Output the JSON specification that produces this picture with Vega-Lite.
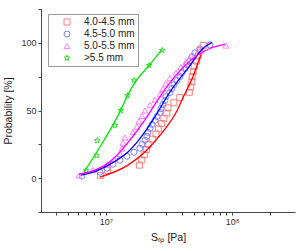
{
  "$schema": "https://vega.github.io/schema/vega-lite/v6.json",
  "width": 254,
  "height": 203,
  "autosize": {"type": "none"},
  "padding": {"left": 41, "top": 9, "right": 3, "bottom": 39},
  "config": {
    "view": {"stroke": null},
    "font": "Liberation Sans",
    "axis": {
      "grid": false,
      "domainColor": "#444444",
      "tickColor": "#444444",
      "labelColor": "#333333",
      "titleColor": "#222222",
      "labelFont": "Liberation Sans",
      "titleFont": "Liberation Sans",
      "labelFontSize": 9,
      "titleFontSize": 10.5,
      "titleFontWeight": "normal",
      "tickSize": 3,
      "labelPadding": 2
    },
    "legend": {
      "orient": "none",
      "legendX": 7,
      "legendY": 5,
      "strokeColor": "#999999",
      "fillColor": "white",
      "padding": 3,
      "symbolOffset": 11,
      "labelOffset": 12,
      "labelFont": "Liberation Sans",
      "labelFontSize": 10,
      "labelColor": "#222222",
      "symbolSize": 36,
      "symbolStrokeWidth": 1,
      "rowPadding": 2
    }
  },
  "data": {
    "values": [
      {"s": "4.0-4.5 mm", "k": "d", "x": 9.08e6, "y": 1.92},
      {"s": "4.0-4.5 mm", "k": "d", "x": 1.03e7, "y": 5.77},
      {"s": "4.0-4.5 mm", "k": "d", "x": 1.84e7, "y": 9.62},
      {"s": "4.0-4.5 mm", "k": "d", "x": 1.92e7, "y": 13.46},
      {"s": "4.0-4.5 mm", "k": "d", "x": 2.01e7, "y": 17.31},
      {"s": "4.0-4.5 mm", "k": "d", "x": 2.10e7, "y": 21.15},
      {"s": "4.0-4.5 mm", "k": "d", "x": 2.16e7, "y": 25.0},
      {"s": "4.0-4.5 mm", "k": "d", "x": 2.33e7, "y": 28.85},
      {"s": "4.0-4.5 mm", "k": "d", "x": 2.49e7, "y": 32.69},
      {"s": "4.0-4.5 mm", "k": "d", "x": 2.60e7, "y": 36.54},
      {"s": "4.0-4.5 mm", "k": "d", "x": 2.76e7, "y": 40.38},
      {"s": "4.0-4.5 mm", "k": "d", "x": 2.88e7, "y": 44.23},
      {"s": "4.0-4.5 mm", "k": "d", "x": 3.03e7, "y": 48.08},
      {"s": "4.0-4.5 mm", "k": "d", "x": 3.10e7, "y": 51.92},
      {"s": "4.0-4.5 mm", "k": "d", "x": 3.45e7, "y": 55.77},
      {"s": "4.0-4.5 mm", "k": "d", "x": 3.85e7, "y": 59.62},
      {"s": "4.0-4.5 mm", "k": "d", "x": 4.57e7, "y": 63.46},
      {"s": "4.0-4.5 mm", "k": "d", "x": 4.69e7, "y": 67.31},
      {"s": "4.0-4.5 mm", "k": "d", "x": 4.78e7, "y": 71.15},
      {"s": "4.0-4.5 mm", "k": "d", "x": 4.82e7, "y": 75.0},
      {"s": "4.0-4.5 mm", "k": "d", "x": 4.91e7, "y": 78.85},
      {"s": "4.0-4.5 mm", "k": "d", "x": 5.00e7, "y": 82.69},
      {"s": "4.0-4.5 mm", "k": "d", "x": 5.23e7, "y": 86.54},
      {"s": "4.0-4.5 mm", "k": "d", "x": 5.38e7, "y": 90.38},
      {"s": "4.0-4.5 mm", "k": "d", "x": 5.55e7, "y": 94.23},
      {"s": "4.0-4.5 mm", "k": "d", "x": 5.89e7, "y": 98.08},

      {"s": "4.5-5.0 mm", "k": "d", "x": 6.46e6, "y": 1.47},
      {"s": "4.5-5.0 mm", "k": "d", "x": 8.96e6, "y": 4.41},
      {"s": "4.5-5.0 mm", "k": "d", "x": 1.02e7, "y": 7.35},
      {"s": "4.5-5.0 mm", "k": "d", "x": 1.136e7, "y": 10.29},
      {"s": "4.5-5.0 mm", "k": "d", "x": 1.29e7, "y": 13.24},
      {"s": "4.5-5.0 mm", "k": "d", "x": 1.467e7, "y": 16.18},
      {"s": "4.5-5.0 mm", "k": "d", "x": 1.666e7, "y": 19.12},
      {"s": "4.5-5.0 mm", "k": "d", "x": 1.858e7, "y": 22.06},
      {"s": "4.5-5.0 mm", "k": "d", "x": 1.928e7, "y": 25.0},
      {"s": "4.5-5.0 mm", "k": "d", "x": 2.036e7, "y": 27.94},
      {"s": "4.5-5.0 mm", "k": "d", "x": 2.112e7, "y": 30.88},
      {"s": "4.5-5.0 mm", "k": "d", "x": 2.15e7, "y": 33.82},
      {"s": "4.5-5.0 mm", "k": "d", "x": 2.231e7, "y": 36.76},
      {"s": "4.5-5.0 mm", "k": "d", "x": 2.313e7, "y": 39.71},
      {"s": "4.5-5.0 mm", "k": "d", "x": 2.443e7, "y": 42.65},
      {"s": "4.5-5.0 mm", "k": "d", "x": 2.534e7, "y": 45.59},
      {"s": "4.5-5.0 mm", "k": "d", "x": 2.676e7, "y": 48.53},
      {"s": "4.5-5.0 mm", "k": "d", "x": 2.726e7, "y": 51.47},
      {"s": "4.5-5.0 mm", "k": "d", "x": 2.827e7, "y": 54.41},
      {"s": "4.5-5.0 mm", "k": "d", "x": 2.932e7, "y": 57.35},
      {"s": "4.5-5.0 mm", "k": "d", "x": 2.986e7, "y": 60.29},
      {"s": "4.5-5.0 mm", "k": "d", "x": 3.212e7, "y": 63.24},
      {"s": "4.5-5.0 mm", "k": "d", "x": 3.331e7, "y": 66.18},
      {"s": "4.5-5.0 mm", "k": "d", "x": 3.455e7, "y": 69.12},
      {"s": "4.5-5.0 mm", "k": "d", "x": 3.649e7, "y": 72.06},
      {"s": "4.5-5.0 mm", "k": "d", "x": 3.854e7, "y": 75.0},
      {"s": "4.5-5.0 mm", "k": "d", "x": 3.997e7, "y": 77.94},
      {"s": "4.5-5.0 mm", "k": "d", "x": 4.222e7, "y": 80.88},
      {"s": "4.5-5.0 mm", "k": "d", "x": 4.378e7, "y": 83.82},
      {"s": "4.5-5.0 mm", "k": "d", "x": 4.625e7, "y": 86.76},
      {"s": "4.5-5.0 mm", "k": "d", "x": 4.796e7, "y": 89.71},
      {"s": "4.5-5.0 mm", "k": "d", "x": 5.066e7, "y": 92.65},
      {"s": "4.5-5.0 mm", "k": "d", "x": 5.55e7, "y": 95.59},
      {"s": "4.5-5.0 mm", "k": "d", "x": 6.66e7, "y": 98.53},

      {"s": "5.0-5.5 mm", "k": "d", "x": 6.11e6, "y": 2},
      {"s": "5.0-5.5 mm", "k": "d", "x": 7.89e6, "y": 6},
      {"s": "5.0-5.5 mm", "k": "d", "x": 1.037e7, "y": 10},
      {"s": "5.0-5.5 mm", "k": "d", "x": 1.157e7, "y": 14},
      {"s": "5.0-5.5 mm", "k": "d", "x": 1.29e7, "y": 18},
      {"s": "5.0-5.5 mm", "k": "d", "x": 1.339e7, "y": 22},
      {"s": "5.0-5.5 mm", "k": "d", "x": 1.363e7, "y": 26},
      {"s": "5.0-5.5 mm", "k": "d", "x": 1.414e7, "y": 30},
      {"s": "5.0-5.5 mm", "k": "d", "x": 1.636e7, "y": 34},
      {"s": "5.0-5.5 mm", "k": "d", "x": 1.759e7, "y": 38},
      {"s": "5.0-5.5 mm", "k": "d", "x": 1.825e7, "y": 42},
      {"s": "5.0-5.5 mm", "k": "d", "x": 1.928e7, "y": 46},
      {"s": "5.0-5.5 mm", "k": "d", "x": 2.036e7, "y": 50},
      {"s": "5.0-5.5 mm", "k": "d", "x": 2.231e7, "y": 54},
      {"s": "5.0-5.5 mm", "k": "d", "x": 2.443e7, "y": 58},
      {"s": "5.0-5.5 mm", "k": "d", "x": 2.676e7, "y": 62},
      {"s": "5.0-5.5 mm", "k": "d", "x": 2.827e7, "y": 66},
      {"s": "5.0-5.5 mm", "k": "d", "x": 2.986e7, "y": 70},
      {"s": "5.0-5.5 mm", "k": "d", "x": 3.212e7, "y": 74},
      {"s": "5.0-5.5 mm", "k": "d", "x": 3.583e7, "y": 78},
      {"s": "5.0-5.5 mm", "k": "d", "x": 3.925e7, "y": 82},
      {"s": "5.0-5.5 mm", "k": "d", "x": 4.299e7, "y": 86},
      {"s": "5.0-5.5 mm", "k": "d", "x": 4.71e7, "y": 90},
      {"s": "5.0-5.5 mm", "k": "d", "x": 5.55e7, "y": 94},
      {"s": "5.0-5.5 mm", "k": "d", "x": 8.915e7, "y": 98},

      {"s": ">5.5 mm", "k": "d", "x": 6.95e6, "y": 5.56},
      {"s": ">5.5 mm", "k": "d", "x": 8.44e6, "y": 16.67},
      {"s": ">5.5 mm", "k": "d", "x": 8.53e6, "y": 27.78},
      {"s": ">5.5 mm", "k": "d", "x": 1.18e7, "y": 38.89},
      {"s": ">5.5 mm", "k": "d", "x": 1.31e7, "y": 50.0},
      {"s": ">5.5 mm", "k": "d", "x": 1.48e7, "y": 61.11},
      {"s": ">5.5 mm", "k": "d", "x": 1.67e7, "y": 72.22},
      {"s": ">5.5 mm", "k": "d", "x": 2.2e7, "y": 83.33},
      {"s": ">5.5 mm", "k": "d", "x": 2.79e7, "y": 94.44},

      {"s": "4.0-4.5 mm", "k": "f", "x": 8.96e6, "y": 0.74},
      {"s": "4.0-4.5 mm", "k": "f", "x": 1.494e7, "y": 9.66},
      {"s": "4.0-4.5 mm", "k": "f", "x": 2.036e7, "y": 19.3},
      {"s": "4.0-4.5 mm", "k": "f", "x": 2.776e7, "y": 33.4},
      {"s": "4.0-4.5 mm", "k": "f", "x": 3.583e7, "y": 48.3},
      {"s": "4.0-4.5 mm", "k": "f", "x": 4.145e7, "y": 60.9},
      {"s": "4.0-4.5 mm", "k": "f", "x": 4.885e7, "y": 75.0},
      {"s": "4.0-4.5 mm", "k": "f", "x": 5.652e7, "y": 91.4},

      {"s": "4.5-5.0 mm", "k": "f", "x": 6.34e6, "y": 2.23},
      {"s": "4.5-5.0 mm", "k": "f", "x": 8.34e6, "y": 5.2},
      {"s": "4.5-5.0 mm", "k": "f", "x": 1.116e7, "y": 11.1},
      {"s": "4.5-5.0 mm", "k": "f", "x": 1.494e7, "y": 19.3},
      {"s": "4.5-5.0 mm", "k": "f", "x": 2.036e7, "y": 34.2},
      {"s": "4.5-5.0 mm", "k": "f", "x": 2.58e7, "y": 49.0},
      {"s": "4.5-5.0 mm", "k": "f", "x": 3.04e7, "y": 60.2},
      {"s": "4.5-5.0 mm", "k": "f", "x": 3.393e7, "y": 66.9},
      {"s": "4.5-5.0 mm", "k": "f", "x": 4.625e7, "y": 83.2},
      {"s": "4.5-5.0 mm", "k": "f", "x": 5.755e7, "y": 95.1},
      {"s": "4.5-5.0 mm", "k": "f", "x": 6.906e7, "y": 100.3},

      {"s": "5.0-5.5 mm", "k": "f", "x": 6.11e6, "y": 2.97},
      {"s": "5.0-5.5 mm", "k": "f", "x": 8.18e6, "y": 5.94},
      {"s": "5.0-5.5 mm", "k": "f", "x": 1.116e7, "y": 13.4},
      {"s": "5.0-5.5 mm", "k": "f", "x": 1.549e7, "y": 28.2},
      {"s": "5.0-5.5 mm", "k": "f", "x": 2.036e7, "y": 43.1},
      {"s": "5.0-5.5 mm", "k": "f", "x": 2.58e7, "y": 57.9},
      {"s": "5.0-5.5 mm", "k": "f", "x": 3.212e7, "y": 70.6},
      {"s": "5.0-5.5 mm", "k": "f", "x": 4.07e7, "y": 81.7},
      {"s": "5.0-5.5 mm", "k": "f", "x": 5.254e7, "y": 90.6},
      {"s": "5.0-5.5 mm", "k": "f", "x": 6.66e7, "y": 95.8},
      {"s": "5.0-5.5 mm", "k": "f", "x": 8.75e7, "y": 98.8},

      {"s": ">5.5 mm", "k": "f", "x": 6.7e6, "y": 4.46},
      {"s": ">5.5 mm", "k": "f", "x": 9.47e6, "y": 26.7},
      {"s": ">5.5 mm", "k": "f", "x": 1.136e7, "y": 39.4},
      {"s": ">5.5 mm", "k": "f", "x": 1.29e7, "y": 49.0},
      {"s": ">5.5 mm", "k": "f", "x": 1.494e7, "y": 61.7},
      {"s": ">5.5 mm", "k": "f", "x": 1.759e7, "y": 72.8},
      {"s": ">5.5 mm", "k": "f", "x": 2.231e7, "y": 84.0},
      {"s": ">5.5 mm", "k": "f", "x": 2.776e7, "y": 95.1}
    ]
  },
  "encoding": {
    "x": {
      "field": "x",
      "type": "quantitative",
      "scale": {"type": "log", "domain": [3.06e6, 3.14e8], "nice": false},
      "axis": {
        "title": "Sᵣₚ [Pa]",
        "values": [4e6, 5e6, 6e6, 7e6, 8e6, 9e6, 10000000, 2e7, 3e7, 4e7, 5e7, 6e7, 7e7, 8e7, 9e7, 100000000, 2e8],
        "labelExpr": "datum.value == 10000000 ? '10⁷' : (datum.value == 100000000 ? '10⁸' : '')",
        "labelOverlap": false,
        "labelFlush": false,
        "titlePadding": 6
      }
    },
    "y": {
      "field": "y",
      "type": "quantitative",
      "scale": {"domain": [-25, 125], "nice": false, "zero": false},
      "axis": {
        "title": "Probability [%]",
        "values": [-25, 0, 25, 50, 75, 100, 125],
        "labelExpr": "datum.value % 50 == 0 ? datum.label : ''",
        "labelOverlap": false,
        "labelFlush": false,
        "titlePadding": 7
      }
    }
  },
  "layer": [
    {
      "transform": [{"filter": "datum.k == 'd'"}],
      "mark": {"type": "point", "filled": false, "strokeWidth": 1, "size": 36, "opacity": 1},
      "encoding": {
        "color": {
          "field": "s",
          "type": "nominal",
          "scale": {"domain": ["4.0-4.5 mm", "4.5-5.0 mm", "5.0-5.5 mm", ">5.5 mm"], "range": ["#ff8080", "#8080ff", "#ff80ff", "#33dd33"]},
          "legend": {"title": null}
        },
        "shape": {
          "field": "s",
          "type": "nominal",
          "scale": {"domain": ["4.0-4.5 mm", "4.5-5.0 mm", "5.0-5.5 mm", ">5.5 mm"], "range": ["square", "circle", "triangle-up", "M0,-1L0.235,-0.324L0.951,-0.309L0.38,0.124L0.588,0.809L0,0.4L-0.588,0.809L-0.38,0.124L-0.951,-0.309L-0.235,-0.324Z"]},
          "legend": {"title": null}
        }
      }
    },
    {
      "transform": [{"filter": "datum.k == 'f'"}],
      "mark": {"type": "line", "interpolate": "monotone", "strokeWidth": 1.3},
      "encoding": {
        "stroke": {
          "field": "s",
          "type": "nominal",
          "scale": {"domain": ["4.0-4.5 mm", "4.5-5.0 mm", "5.0-5.5 mm", ">5.5 mm"], "range": ["#ff0000", "#0000ff", "#ff00ff", "#00e600"]},
          "legend": null
        }
      }
    }
  ]
}
